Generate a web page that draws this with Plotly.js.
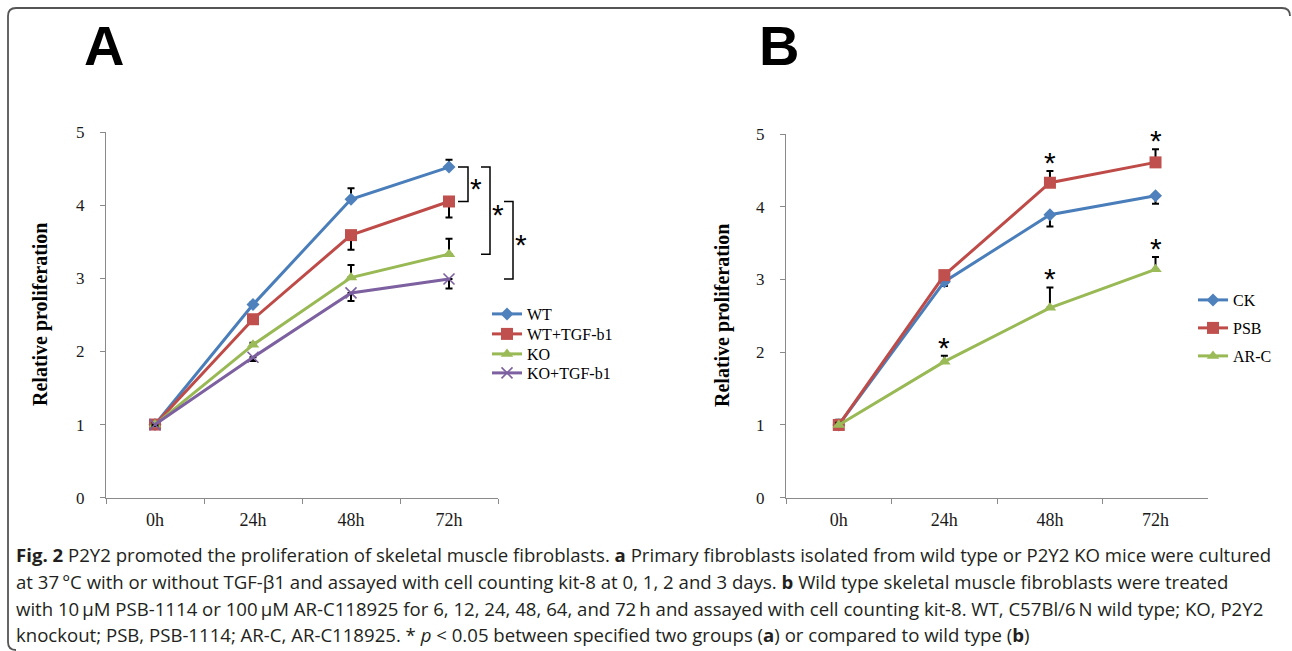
<!DOCTYPE html>
<html>
<head>
<meta charset="utf-8">
<script src="https://cdn.plot.ly/plotly-3.0.1.min.js"></script>
<style>
html,body{margin:0;padding:0;background:#fff;}
#chart{width:1292px;height:651px;}
</style>
</head>
<body>
<div id="chart"></div>
<script>
// ---------------- DATA ----------------
var timeLabels = ['0h', '24h', '48h', '72h'];

// Panel A
var seriesNamesA = ['WT', 'WT+TGF-b1', 'KO', 'KO+TGF-b1'];
var wtA      = [1.00, 2.64, 4.08, 4.52];
var wtErrA   = [0.02, 0.03, 0.15, 0.10];   // drawn upward
var wtTgfA   = [1.00, 2.44, 3.59, 4.05];
var wtTgfErrA= [0.02, 0.03, 0.20, 0.22];   // drawn downward
var koA      = [1.00, 2.09, 3.01, 3.33];
var koErrA   = [0.02, 0.03, 0.17, 0.21];   // drawn upward
var koTgfA   = [1.00, 1.92, 2.80, 2.99];
var koTgfErrA= [0.02, 0.05, 0.11, 0.13];   // drawn downward

// Panel B
var seriesNamesB = ['CK', 'PSB', 'AR-C'];
var ckB      = [1.00, 2.97, 3.89, 4.15];
var ckErrB   = [0.03, 0.06, 0.16, 0.11];   // drawn downward
var psbB     = [1.00, 3.06, 4.33, 4.61];
var psbErrB  = [0.07, 0.04, 0.16, 0.18];   // drawn upward
var arcB     = [1.00, 1.87, 2.61, 3.14];
var arcErrB  = [0.03, 0.08, 0.28, 0.17];   // drawn upward

// significance marks in panel B: [series, time index]
var starsB = [['PSB', 2], ['PSB', 3], ['AR-C', 1], ['AR-C', 2], ['AR-C', 3]];
// significance brackets in panel A at 72h: [series i, series j]
var bracketsA = [[0, 1], [0, 2], [1, 3]];

var captionLines = [
  '<b>Fig. 2</b> P2Y2 promoted the proliferation of skeletal muscle fibroblasts. <b>a</b> Primary fibroblasts isolated from wild type or P2Y2 KO mice were cultured',
  'at 37\u2009°C with or without TGF-β1 and assayed with cell counting kit-8 at 0, 1, 2 and 3 days. <b>b</b> Wild type skeletal muscle fibroblasts were treated',
  'with 10\u2009μM PSB-1114 or 100\u2009μM AR-C118925 for 6, 12, 24, 48, 64, and 72\u2009h and assayed with cell counting kit-8. WT, C57Bl/6\u2009N wild type; KO, P2Y2',
  'knockout; PSB, PSB-1114; AR-C, AR-C118925. * <i>p</i> &lt; 0.05 between specified two groups (<b>a</b>) or compared to wild type (<b>b</b>)'
];

// ---------------- STYLE ----------------
var W = 1292, H = 651;
function px(x) { return x / W; }
function py(y) { return 1 - y / H; }

var C = {
  blue:   '#4A7EBB', blueM: '#4F81BD',
  red:    '#BE4B48', redM:  '#C0504D',
  green:  '#98B954', greenM:'#9BBB59',
  purple: '#7D60A0'
};
var serif = 'Liberation Serif, Times New Roman, serif';
var axisGray = '#8a8a8a';

function errBars(vals, up) {
  var zeros = vals.map(function () { return 0; });
  return {
    type: 'data', symmetric: false,
    array: up ? vals : zeros,
    arrayminus: up ? zeros : vals,
    color: '#000', thickness: 2, width: 3.5
  };
}

function line(name, y, err, up, color, mcolor, symbol, size, xa, ya, legend) {
  var mk = {symbol: symbol, size: size, color: mcolor};
  if (symbol === 'x-thin-open') mk.line = {color: mcolor, width: 1.6};
  return {
    type: 'scatter', mode: 'lines+markers', name: name,
    x: timeLabels, y: y, xaxis: xa, yaxis: ya, legend: legend,
    line: {color: color, width: 3},
    marker: mk,
    error_y: errBars(err, up),
    cliponaxis: false,
    hoverinfo: 'x+y+name'
  };
}

var traces = [
  line(seriesNamesA[0], wtA,    wtErrA,    true,  C.blue,   C.blueM,  'diamond',     10, 'x', 'y', 'legend'),
  line(seriesNamesA[1], wtTgfA, wtTgfErrA, false, C.red,    C.redM,   'square',      12, 'x', 'y', 'legend2'),
  line(seriesNamesA[2], koA,    koErrA,    true,  C.green,  C.greenM, 'triangle-up', 11, 'x', 'y', 'legend3'),
  line(seriesNamesA[3], koTgfA, koTgfErrA, false, C.purple, C.purple, 'x-thin-open', 11, 'x', 'y', 'legend4'),
  line(seriesNamesB[0], ckB,    ckErrB,    false, C.blue,   C.blueM,  'diamond',     10, 'x2', 'y2', 'legend5'),
  line(seriesNamesB[1], psbB,   psbErrB,   true,  C.red,    C.redM,   'square',      12, 'x2', 'y2', 'legend6'),
  line(seriesNamesB[2], arcB,   arcErrB,   true,  C.green,  C.greenM, 'triangle-up', 11, 'x2', 'y2', 'legend7')
];

function xAxis(dom) {
  return {
    domain: dom, type: 'category', range: [-0.5, 3.5],
    showline: true, linecolor: axisGray, linewidth: 1,
    ticks: 'outside', tickson: 'boundaries', ticklen: 5, tickcolor: axisGray,
    showgrid: false, zeroline: false, fixedrange: true,
    tickfont: {family: serif, size: 18, color: '#1a1a1a'},
    ticklabelstandoff: 6
  };
}
function yAxis(dom, anchor) {
  return {
    domain: dom, anchor: anchor, range: [0, 5], tickmode: 'linear', tick0: 0, dtick: 1,
    showline: true, linecolor: axisGray, linewidth: 1,
    ticks: 'outside', ticklen: 5, tickcolor: axisGray,
    showgrid: false, zeroline: false, fixedrange: true,
    tickfont: {family: serif, size: 17, color: '#1a1a1a'},
    ticklabelstandoff: 12
  };
}

function legendBox(xLeft, yCenter) {
  return {
    x: px(xLeft), xanchor: 'left', y: py(yCenter), yanchor: 'middle',
    bgcolor: 'rgba(0,0,0,0)', borderwidth: 0,
    font: {family: serif, size: 16, color: '#000'},
    itemclick: false, itemdoubleclick: false
  };
}

var annotations = [];
// panel letters
annotations.push({xref: 'paper', yref: 'paper', x: px(104), y: py(45), text: '<b>A</b>', showarrow: false,
  xanchor: 'center', yanchor: 'middle', font: {family: 'Liberation Sans, Arial, sans-serif', size: 56, color: '#000'}});
annotations.push({xref: 'paper', yref: 'paper', x: px(779), y: py(45), text: '<b>B</b>', showarrow: false,
  xanchor: 'center', yanchor: 'middle', font: {family: 'Liberation Sans, Arial, sans-serif', size: 56, color: '#000'}});
// y axis titles
[[40, 315], [722, 316]].forEach(function (p) {
  annotations.push({xref: 'paper', yref: 'paper', x: px(p[0]), y: py(p[1]), text: '<b>Relative proliferation</b>',
    textangle: -90, showarrow: false, xanchor: 'center', yanchor: 'middle',
    font: {family: serif, size: 20, color: '#000'}});
});
// caption
var capY = [554, 581, 608, 634];
captionLines.forEach(function (t, i) {
  annotations.push({xref: 'paper', yref: 'paper', x: px(14), y: py(capY[i]), text: t, showarrow: false,
    xanchor: 'left', yanchor: 'middle', align: 'left',
    font: {family: 'Open Sans, sans-serif', size: 18.6, color: '#231f20'}});
});

// stars in panel B (from data: value + upward error)
var seriesB = {'CK': [ckB, ckErrB], 'PSB': [psbB, psbErrB], 'AR-C': [arcB, arcErrB]};
starsB.forEach(function (s) {
  var d = seriesB[s[0]], i = s[1];
  annotations.push({xref: 'x2', yref: 'y2', x: timeLabels[i], y: d[0][i] + d[1][i], text: '*', showarrow: false,
    xanchor: 'center', yanchor: 'bottom', yshift: -10,
    font: {family: 'Liberation Sans, Arial, sans-serif', size: 30, color: '#000'}});
});

// brackets in panel A at 72h
var seriesA = [wtA, wtTgfA, koA, koTgfA];
var bracketX = [[458, 468], [481, 490], [504, 513]];
var shapes = [];
bracketsA.forEach(function (b, k) {
  var y1 = seriesA[b[0]][3], y2 = seriesA[b[1]][3];
  var x1 = px(bracketX[k][0]), x2 = px(bracketX[k][1]);
  shapes.push({type: 'path', xref: 'paper', yref: 'y',
    path: 'M' + x1 + ',' + y1 + ' L' + x2 + ',' + y1 + ' L' + x2 + ',' + y2 + ' L' + x1 + ',' + y2,
    line: {color: '#000', width: 1.5}});
  annotations.push({xref: 'paper', yref: 'y', x: px(bracketX[k][1] + 8), y: (y1 + y2) / 2, text: '*', showarrow: false,
    xanchor: 'center', yanchor: 'middle', yshift: -4,
    font: {family: 'Liberation Sans, Arial, sans-serif', size: 30, color: '#000'}});
});

// outer rounded frame
function P(x, y) { return px(x) + ',' + py(y); }
shapes.push({type: 'path', xref: 'paper', yref: 'paper',
  path: 'M' + P(1290, 16) + ' Q' + P(1290, 8) + ' ' + P(1282, 8) + ' L' + P(16, 8) + ' Q' + P(8, 8) + ' ' + P(8, 16) +
        ' L' + P(8, 642) + ' Q' + P(8, 650) + ' ' + P(16, 650),
  line: {color: '#555', width: 1.8}});

var layout = {
  width: W, height: H,
  margin: {l: 0, r: 0, t: 0, b: 0},
  paper_bgcolor: '#fff', plot_bgcolor: 'rgba(0,0,0,0)',
  showlegend: true,
  xaxis: xAxis([px(106), px(498)]),
  yaxis: yAxis([py(497.7), py(132)], 'x'),
  xaxis2: Object.assign(xAxis([px(786), px(1208.3)]), {anchor: 'y2'}),
  yaxis2: yAxis([py(497.7), py(134)], 'x2'),
  legend:  legendBox(487, 314),
  legend2: legendBox(487, 334),
  legend3: legendBox(487, 354),
  legend4: legendBox(487, 373),
  legend5: legendBox(1193, 300),
  legend6: legendBox(1193, 328),
  legend7: legendBox(1193, 356),
  annotations: annotations,
  shapes: shapes
};
layout.xaxis.anchor = 'y';

Plotly.newPlot('chart', traces, layout, {displayModeBar: false, responsive: false});
</script>
</body>
</html>
